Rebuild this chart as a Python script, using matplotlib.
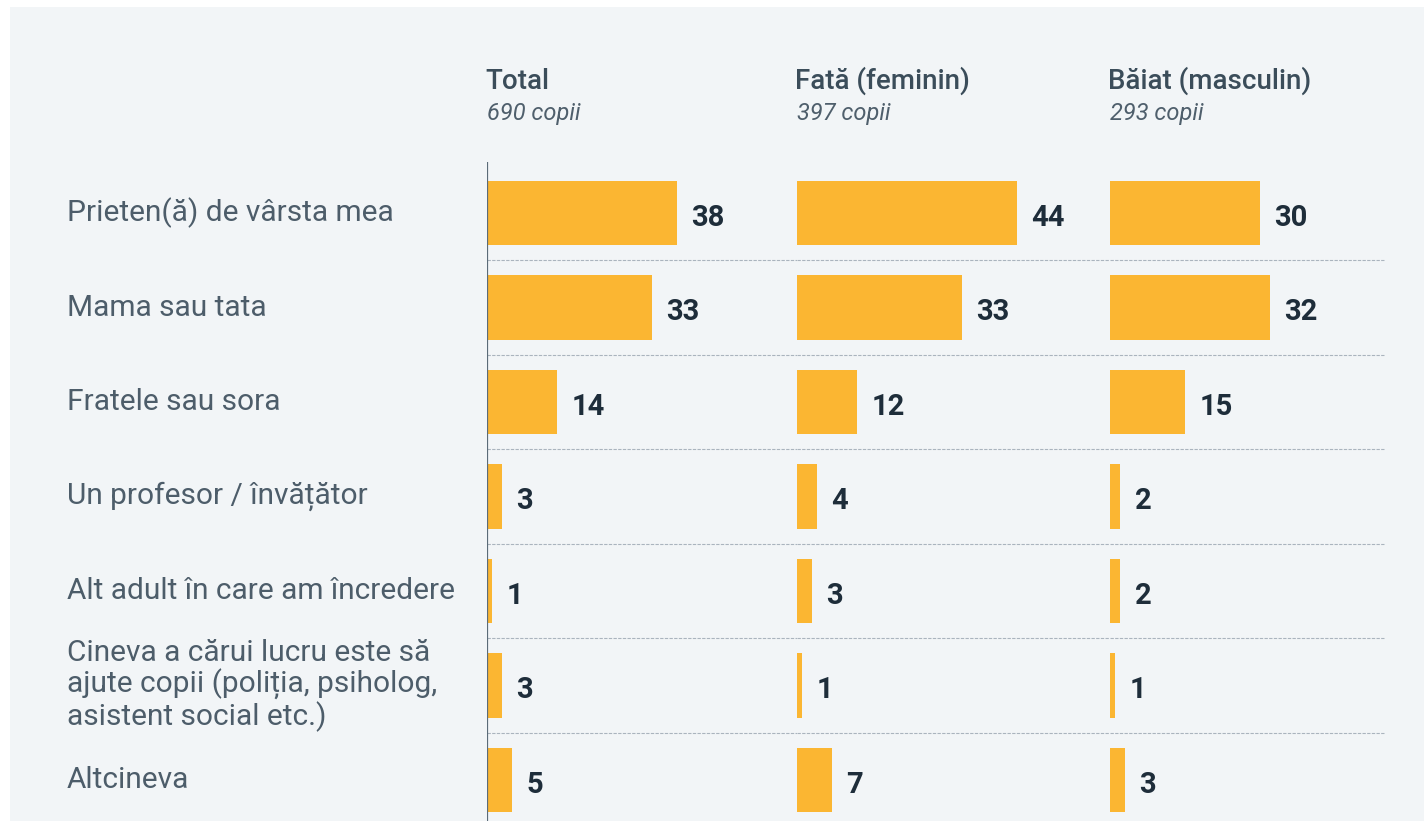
import matplotlib.pyplot as plt
from matplotlib.patches import Rectangle
from matplotlib.transforms import blended_transform_factory

plt.rcParams['font.family'] = ['Roboto', 'DejaVu Sans']

# Data (percent of children)
categories = [
    'Prieten(ă) de vârsta mea',
    'Mama sau tata',
    'Fratele sau sora',
    'Un profesor / învățător',
    'Alt adult în care am încredere',
    'Cineva a cărui lucru este să\najute copii (poliția, psiholog,\nasistent social etc.)',
    'Altcineva',
]
total = [38, 33, 14, 3, 1, 3, 5]
fata = [44, 33, 12, 4, 3, 1, 7]
baiat = [30, 32, 15, 2, 2, 1, 3]

groups = ['Total', 'Fată (feminin)', 'Băiat (masculin)']
counts = ['690 copii', '397 copii', '293 copii']
series = [total, fata, baiat]

# Colours
panel_bg = '#f2f5f7'
bar_color = '#fbb632'
header_color = '#3b4d5a'
sub_color = '#4f5f6c'
label_color = '#4d5d6a'
value_color = '#1e2d3a'
sep_color = '#aab4be'

W, H = 1424, 821
fig = plt.figure(figsize=(W / 100, H / 100), dpi=100)
fig.patch.set_facecolor('white')
fig.patches.append(Rectangle((10 / W, 0), 1, 1 - 7 / H, transform=fig.transFigure,
                             facecolor=panel_bg, edgecolor='none', zorder=-10))

# column layout in pixels
col_left = [487, 797, 1110]
col_width = [310, 313, 275]
px_per_unit = 5.0
axes_top = 162
n = len(categories)
rows = list(range(n))

axes = []
for left, width, vals, grp, cnt in zip(col_left, col_width, series, groups, counts):
    ax = fig.add_axes([left / W, 0, width / W, (H - axes_top) / H])
    ax.set_xlim(0, width / px_per_unit)
    ax.set_ylim(6.434, -0.54)
    ax.axis('off')
    ax.patch.set_alpha(0)

    ax.barh(rows, vals, height=0.68, color=bar_color, zorder=2)
    for i, v in enumerate(vals):
        ax.annotate(str(v), xy=(v, i), xytext=(10.5, -3.5), textcoords='offset points',
                    ha='left', va='center', fontsize=21, fontweight='bold',
                    color=value_color, clip_on=False)

    # dashed separators between rows
    for i in range(n - 1):
        ax.axhline(i + 0.5, color=sep_color, linewidth=0.8, linestyle=(0, (3, 1.2)), zorder=1)

    fig.text((left - 2) / W, 1 - 89 / H, grp, ha='left', va='baseline', fontsize=20,
             fontweight='medium', color=header_color)
    fig.text(left / W, 1 - 120 / H, cnt, ha='left', va='baseline', fontsize=17,
             fontstyle='italic', color=sub_color)
    axes.append(ax)

# axis line only on the Total column
axes[0].axvline(0, color='#5b6b78', linewidth=1.6, zorder=3)

# category labels
trans = blended_transform_factory(fig.transFigure, axes[0].transData)
for i, cat in enumerate(categories):
    axes[0].text(67 / W, i, cat, transform=trans, ha='left', va='center',
                 fontsize=21.5, color=label_color, linespacing=1.08, clip_on=False)

fig.savefig('out.png', dpi=100, facecolor=fig.get_facecolor())
